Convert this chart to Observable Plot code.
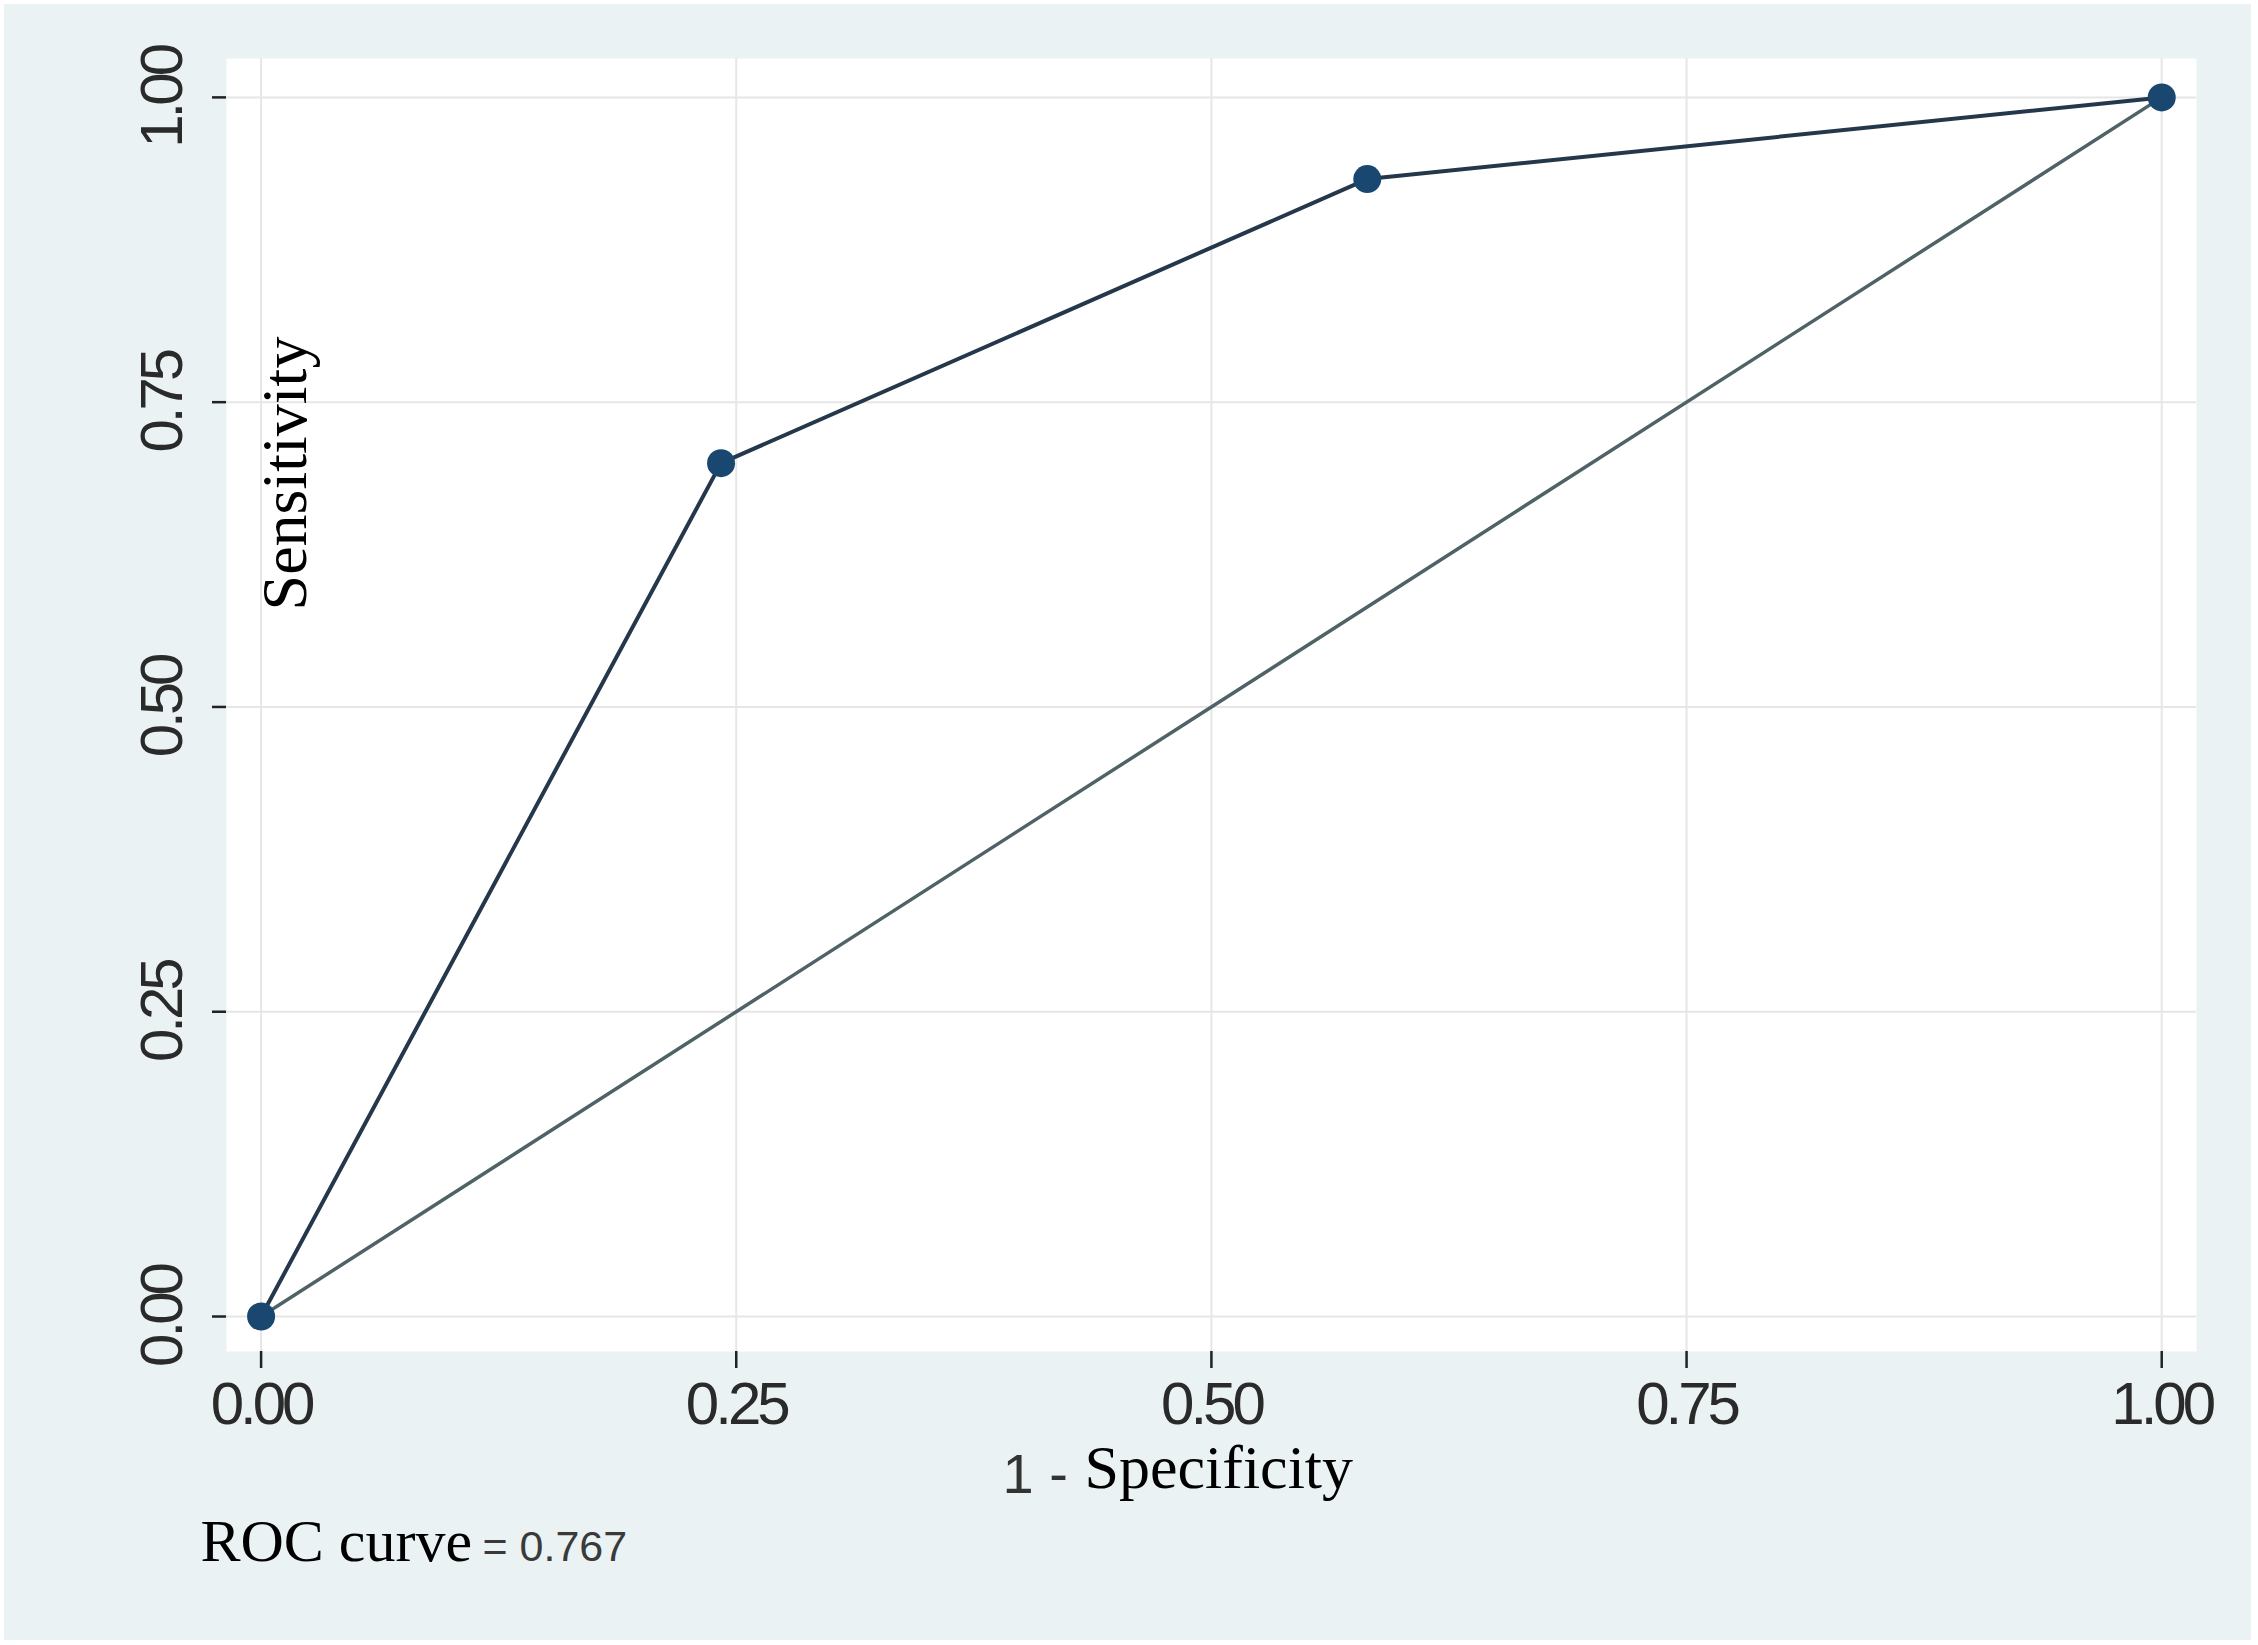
<!DOCTYPE html>
<html><head><meta charset="utf-8">
<script src="https://cdn.jsdelivr.net/npm/d3@7"></script>
<script src="https://cdn.jsdelivr.net/npm/@observablehq/plot@0.6"></script>
<style>
html,body{margin:0;padding:0;background:#fff;overflow:hidden;width:2258px;height:1645px;}
#panel{position:absolute;left:4px;top:4px;width:2247px;height:1636px;background:#eaf2f3;}
#chart{position:absolute;left:0;top:0;}
#chart svg{background:transparent !important;max-width:none !important;}
g[aria-label$="tick label"] text{letter-spacing:-4px;}
</style></head><body><div id="panel"></div><div id="chart"></div>
<script>
// ROC curve points: 1 - specificity (false positive rate) and sensitivity
const oneMinusSpecificity = [0, 0.242, 0.582, 1];
const sensitivity = [0, 0.70, 0.933, 1];
// reference (chance) line
const refX = [0, 1];
const refY = [0, 1];
const tickValues = [0, 0.25, 0.5, 0.75, 1];
const xTitleNum = "1 -";
const xTitleWord = "Specificity";
const yTitle = "Sensitivity";
const aucLabel = "ROC curve";
const aucValue = "= 0.767";

const roc = oneMinusSpecificity.map((x, i) => ({x, y: sensitivity[i]}));
const ref = refX.map((x, i) => ({x, y: refY[i]}));

const sans = "Liberation Sans, Arial, Helvetica, sans-serif";
const serif = "Liberation Serif, Times New Roman, serif";
const fmt = d3.format(".2f");

const chart = Plot.plot({
  width: 2258,
  height: 1645,
  marginLeft: 226,
  marginRight: 62,
  marginTop: 58,
  marginBottom: 294,
  style: {background: "transparent", overflow: "visible"},
  x: {domain: [-0.0182, 1.0183]},
  y: {domain: [-0.0287, 1.0319]},
  marks: [
    Plot.frame({fill: "white", stroke: null}),
    Plot.gridX(tickValues, {stroke: "#e6e6e6", strokeOpacity: 1, strokeWidth: 2}),
    Plot.gridY(tickValues, {stroke: "#e6e6e6", strokeOpacity: 1, strokeWidth: 2}),
    Plot.axisX(tickValues, {
      line: true, stroke: "#222", strokeWidth: 2.5, tickSize: 17, tickPadding: 13,
      tickFormat: fmt, fontSize: 60, fontFamily: sans, fill: "#2a2a2a", label: null
    }),
    Plot.axisY(tickValues, {
      line: true, stroke: "#222", strokeWidth: 2.5, tickSize: 14, tickPadding: 31,
      tickRotate: -90, tickFormat: fmt, fontSize: 60, fontFamily: sans, fill: "#2a2a2a", label: null
    }),
    Plot.line(ref, {x: "x", y: "y", stroke: "#4f6266", strokeWidth: 3.5}),
    Plot.line(roc, {x: "x", y: "y", stroke: "#24374b", strokeWidth: 4}),
    Plot.dot(roc, {x: "x", y: "y", r: 14, fill: "#1a476f", stroke: "none"}),
    Plot.text([yTitle], {
      frameAnchor: "top-left", dx: 59, dy: 415, rotate: -90,
      textAnchor: "middle", lineAnchor: "middle",
      fontSize: 64, fontFamily: serif, fill: "#000"
    }),
    Plot.text([xTitleNum], {
      frameAnchor: "bottom-left", dx: 776, dy: 141, textAnchor: "start", lineAnchor: "bottom",
      fontSize: 56, fontFamily: sans, fill: "#333"
    }),
    Plot.text([xTitleWord], {
      frameAnchor: "bottom-left", dx: 858, dy: 136, textAnchor: "start", lineAnchor: "bottom",
      fontSize: 62, fontFamily: serif, fill: "#000"
    }),
    Plot.text([aucLabel], {
      frameAnchor: "bottom-left", dx: -26, dy: 209, textAnchor: "start", lineAnchor: "bottom",
      fontSize: 60, fontFamily: serif, fill: "#000"
    }),
    Plot.text([aucValue], {
      frameAnchor: "bottom-left", dx: 256, dy: 209, textAnchor: "start", lineAnchor: "bottom",
      fontSize: 43, fontFamily: sans, fill: "#3a3a3a"
    })
  ]
});
document.getElementById("chart").appendChild(chart);
</script></body></html>
